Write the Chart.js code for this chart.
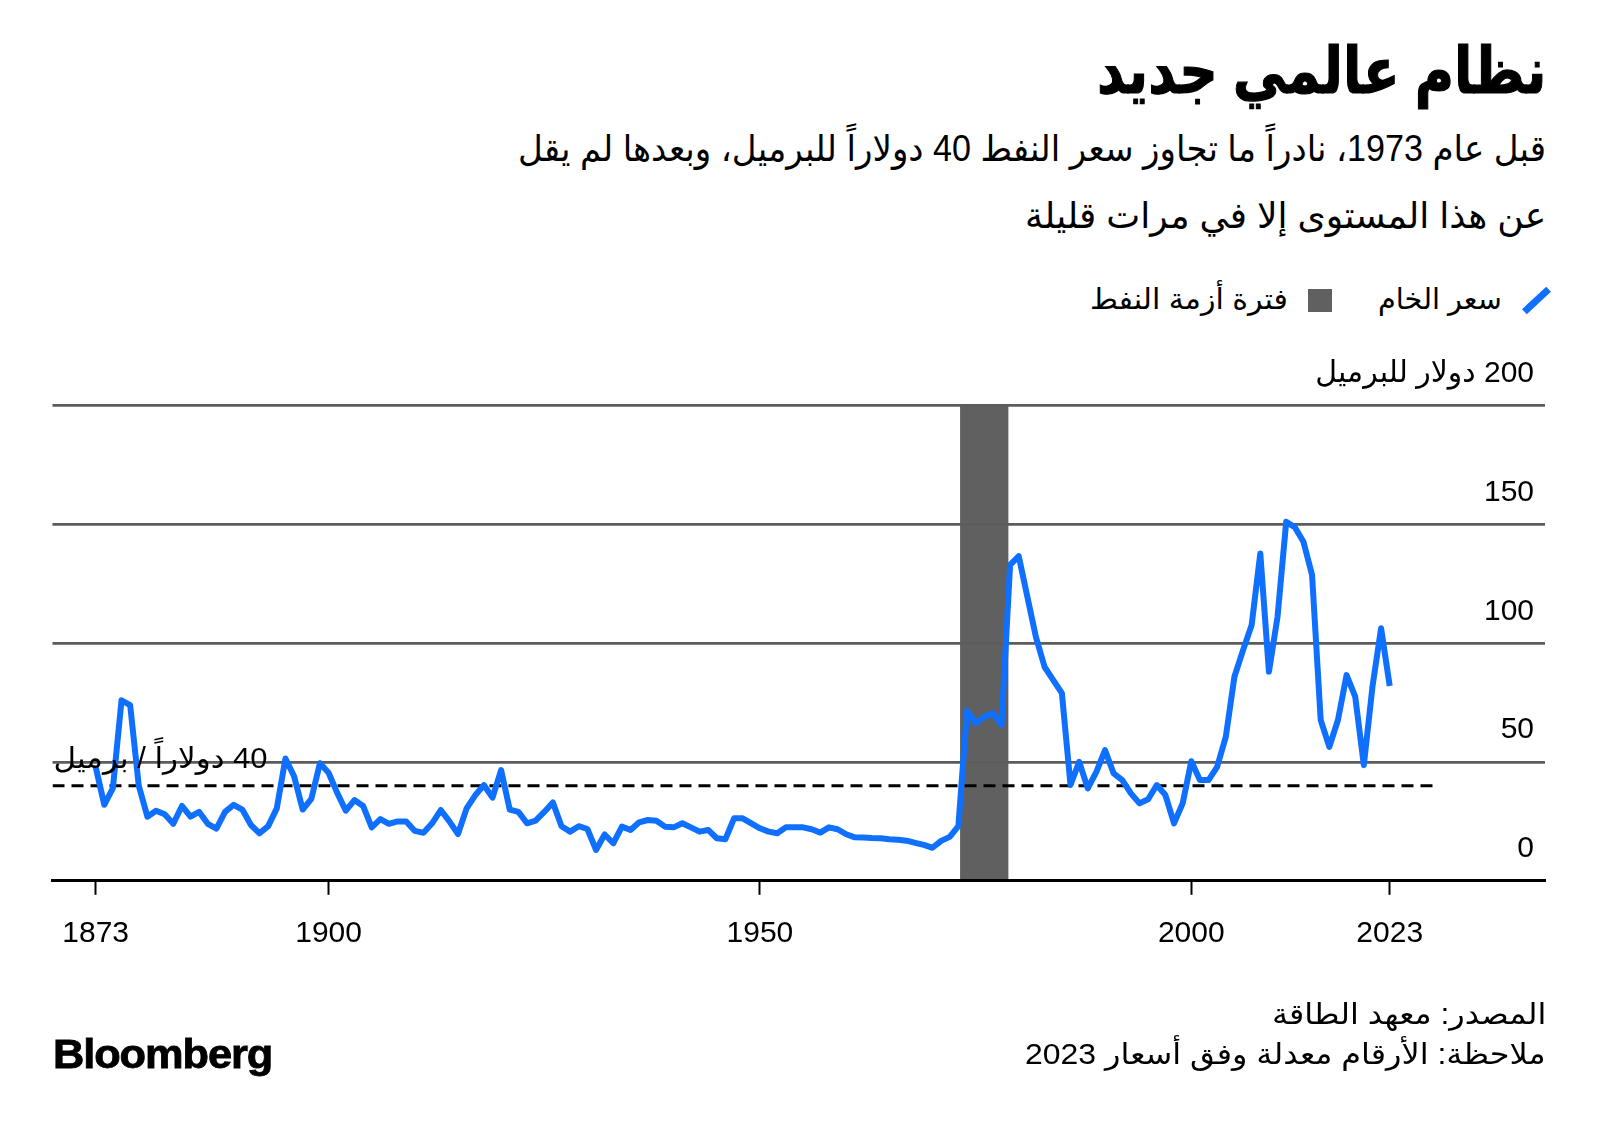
<!DOCTYPE html>
<html lang="ar">
<head>
<meta charset="utf-8">
<title>نظام عالمي جديد</title>
<script src="https://cdn.jsdelivr.net/npm/chart.js@4.4.1/dist/chart.umd.min.js"></script>
<style>
  html, body { margin: 0; padding: 0; background: #fff; }
  body { width: 1600px; height: 1132px; position: relative; overflow: hidden;
         font-family: 'Liberation Sans', 'DejaVu Sans', sans-serif; color: #000; }
  .t { position: absolute; white-space: nowrap; direction: rtl; line-height: 1; transform-origin: right center; }
  .l { transform-origin: left center; direction: ltr; }
  #chart { position: absolute; left: 0; top: 0; }
  #icon-line { position: absolute; left: 1520px; top: 297px; width: 33px; height: 7px; background: #0f6fff; transform: rotate(-43deg); }
  #icon-box { position: absolute; left: 1308px; top: 289px; width: 24px; height: 23px; background: #606060; }
</style>
</head>
<body>

<div class="t" data-r="1546" data-w="449" data-cy="71" style="font-size:64px;font-weight:bold;-webkit-text-stroke:1.2px #000;">نظام عالمي جديد</div>
<div class="t" data-r="1546" data-w="1028" data-cy="149" style="font-size:36px;">قبل عام 1973، نادراً ما تجاوز سعر النفط 40 دولاراً للبرميل، وبعدها لم يقل</div>
<div class="t" data-r="1546" data-w="521" data-cy="216" style="font-size:36px;">عن هذا المستوى إلا في مرات قليلة</div>

<div id="icon-line"></div>
<div class="t" data-r="1502" data-w="124" data-cy="299" style="font-size:29px;">سعر الخام</div>
<div id="icon-box"></div>
<div class="t" data-r="1288" data-w="198" data-cy="299" style="font-size:29px;">فترة أزمة النفط</div>

<canvas id="chart" width="1600" height="1132" dir="rtl"></canvas>

<div class="t" data-r="1546" data-w="274" data-cy="1014" style="font-size:29px;">المصدر: معهد الطاقة</div>
<div class="t" data-r="1546" data-w="521" data-cy="1054" style="font-size:29px;">ملاحظة: الأرقام معدلة وفق أسعار 2023</div>
<div class="t l" data-l="53" data-w="219" data-cy="1054" style="font-size:40px;font-weight:bold;letter-spacing:-1px;-webkit-text-stroke:0.8px #000;">Bloomberg</div>

<script>
// years on the x axis
const years = [
  1873, 1874, 1875, 1876, 1877, 1878, 1879,
  1880, 1881, 1882, 1883, 1884, 1885, 1886, 1887, 1888, 1889,
  1890, 1891, 1892, 1893, 1894, 1895, 1896, 1897, 1898, 1899,
  1900, 1901, 1902, 1903, 1904, 1905, 1906, 1907, 1908, 1909,
  1910, 1911, 1912, 1913, 1914, 1915, 1916, 1917, 1918, 1919,
  1920, 1921, 1922, 1923, 1924, 1925, 1926, 1927, 1928, 1929,
  1930, 1931, 1932, 1933, 1934, 1935, 1936, 1937, 1938, 1939,
  1940, 1941, 1942, 1943, 1944, 1945, 1946, 1947, 1948, 1949,
  1950, 1951, 1952, 1953, 1954, 1955, 1956, 1957, 1958, 1959,
  1960, 1961, 1962, 1963, 1964, 1965, 1966, 1967, 1968, 1969,
  1970, 1971, 1972, 1973, 1974, 1975, 1976, 1977, 1978, 1979,
  1980, 1981, 1982, 1983, 1984, 1985, 1986, 1987, 1988, 1989,
  1990, 1991, 1992, 1993, 1994, 1995, 1996, 1997, 1998, 1999,
  2000, 2001, 2002, 2003, 2004, 2005, 2006, 2007, 2008, 2009,
  2010, 2011, 2012, 2013, 2014, 2015, 2016, 2017, 2018, 2019,
  2020, 2021, 2022, 2023
];

// crude price, $ per barrel in 2023 money
const prices = [
  48, 32, 39, 76, 74, 40, 27,
  29.5, 28, 24, 31.5, 27, 29, 24, 22, 29, 32,
  30, 23.5, 20, 23, 30.5, 51.5, 44, 30, 34.5, 49.5,
  45.5, 37, 29.5, 34, 31.5, 22.5, 26, 24, 25, 25,
  21, 20.2, 24.2, 29.8, 25, 19.7, 30.5, 36, 40.3, 35,
  46.6, 30, 29, 24.2, 25.3, 29, 33, 23, 20.7, 23,
  21.8, 13, 19.5, 15.8, 22.8, 21.4, 24.6, 25.6, 25.3, 22.8,
  22.5, 24.2, 22.5, 20.7, 21.4, 17.9, 17.5, 26.3, 26.3, 24.2,
  22.1, 20.7, 20, 22.5, 22.5, 22.5, 21.7, 20.3, 22.5, 21.7,
  19.6, 18.3, 18.2, 18, 17.9, 17.5, 17.3, 16.9, 16, 15.1,
  13.9, 16.8, 18.5, 23, 71.6, 66.3, 69.1, 70.5, 65.6, 133,
  136.7, 119.5, 102.5, 90, 84.5, 79, 40.3, 50.1, 38.9, 45.9,
  55, 45.2, 42.4, 36.8, 32.6, 34.3, 40.3, 36.1, 24.2, 32.6,
  50.3, 42.4, 42.4, 48, 60.6, 85.9, 97.1, 107.7, 137.8, 88,
  111.2, 151.1, 148.8, 142.7, 128.7, 67.7, 56.4, 67.7, 86.6, 77.5,
  48.7, 81.7, 106.3, 82
];

const xTicks = [1873, 1900, 1950, 2000, 2023];
const yTicks = [0, 50, 100, 150, 200];
const yTopLabel = '200 دولار للبرميل';

const threshold = 40;
const thresholdSpan = [1868, 2028.2];
const thresholdLabel = '40 دولاراً / برميل';
const crisis = [1973.2, 1978.8];

const blue = '#0f6fff';
const tickFont = "'Liberation Sans', 'DejaVu Sans', sans-serif";

// place the html texts: anchor edge, width and vertical centre
document.querySelectorAll('.t').forEach(el => {
  const w = +el.dataset.w, cy = +el.dataset.cy;
  if (el.dataset.r) el.style.right = (1600 - el.dataset.r) + 'px';
  else el.style.left = el.dataset.l + 'px';
  el.style.top = (cy - el.offsetHeight / 2) + 'px';
  el.style.transform = 'scaleX(' + (w / el.offsetWidth) + ')';
});

const crisisShade = {
  id: 'crisisShade',
  beforeDraw(chart) {
    const {ctx, chartArea, scales} = chart;
    const x0 = scales.x.getPixelForValue(crisis[0]);
    const x1 = scales.x.getPixelForValue(crisis[1]);
    ctx.save();
    ctx.fillStyle = '#606060';
    ctx.fillRect(x0, chartArea.top, x1 - x0, chartArea.bottom - chartArea.top);
    ctx.restore();
  }
};

const thresholdText = {
  id: 'thresholdText',
  afterDatasetsDraw(chart) {
    const {ctx, chartArea, scales} = chart;
    const y = scales.y.getPixelForValue(threshold) - 26;
    ctx.save();
    ctx.font = '29px ' + tickFont;
    ctx.direction = 'rtl';
    ctx.textAlign = 'left';
    ctx.textBaseline = 'middle';
    ctx.fillStyle = '#000';
    const w = ctx.measureText(thresholdLabel).width;
    ctx.translate(chartArea.left + 1, y);
    ctx.scale(214 / w, 1);
    ctx.fillText(thresholdLabel, 0, 0);
    ctx.restore();
  }
};

new Chart(document.getElementById('chart'), {
  type: 'line',
  data: {
    datasets: [{
      label: 'سعر الخام',
      data: years.map((y, i) => ({x: y, y: prices[i]})),
      borderColor: blue,
      borderWidth: 6,
      borderJoinStyle: 'round',
      pointRadius: 0,
      tension: 0
    }, {
      label: '40',
      data: thresholdSpan.map(x => ({x: x, y: threshold})),
      borderColor: '#000',
      borderWidth: 3,
      borderDash: [12, 7],
      pointRadius: 0
    }]
  },
  options: {
    responsive: false,
    animation: false,
    events: [],
    layout: {padding: {left: 52.5, right: 55, top: 405.7, bottom: 171.2}},
    plugins: {legend: {display: false}, tooltip: {enabled: false}},
    scales: {
      x: {
        type: 'linear',
        min: 1868,
        max: 2041,
        afterBuildTicks: s => { s.ticks = xTicks.map(v => ({value: v})); },
        afterFit: s => { s.height = 80; },
        grid: {drawOnChartArea: false, drawTicks: true, tickLength: 14, tickWidth: 2, tickColor: '#000'},
        border: {display: true, color: '#000', width: 3},
        ticks: {
          font: {family: tickFont, size: 30},
          color: '#000',
          padding: 21,
          maxRotation: 0,
          autoSkip: false,
          callback: v => String(v)
        }
      },
      y: {
        position: 'right',
        min: 0,
        max: 200,
        afterBuildTicks: s => { s.ticks = yTicks.map(v => ({value: v})); },
        afterFit: s => { s.width = 0; },
        grid: {
          color: c => (c.tick && c.tick.value === 0) ? '#000' : '#5c5c5c',
          lineWidth: c => (c.tick && c.tick.value === 0) ? 3 : 2.8,
          drawTicks: false
        },
        border: {display: false},
        ticks: {
          mirror: true,
          padding: -11,
          labelOffset: -32,
          font: {family: tickFont, size: 30},
          color: '#000',
          callback: v => v === 200 ? yTopLabel : String(v)
        }
      }
    }
  },
  plugins: [crisisShade, thresholdText]
});
</script>
</body>
</html>
